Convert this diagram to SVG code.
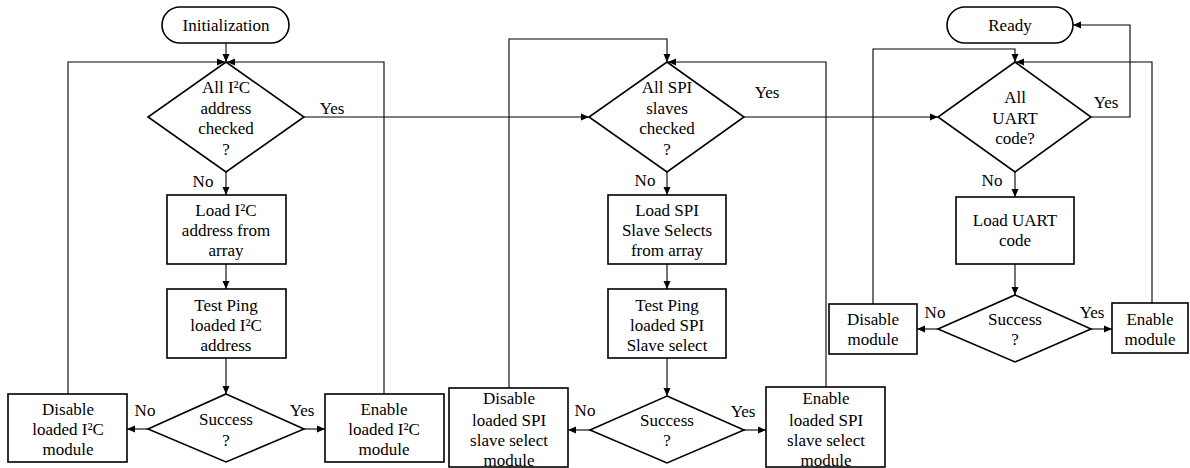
<svg xmlns="http://www.w3.org/2000/svg" width="1190" height="468" viewBox="0 0 1190 468">
<defs>
<marker id="ah" markerWidth="9" markerHeight="8" refX="8" refY="4" orient="auto" markerUnits="userSpaceOnUse">
<path d="M0,0.5 L8,4 L0,7.5 Z" fill="#000"/>
</marker>
<style>
.shape{fill:#fff;stroke:#000;stroke-width:1.6}
.conn{fill:none;stroke:#000;stroke-width:1.1;marker-end:url(#ah)}
text{font-family:"Liberation Serif","Times New Roman",Times,"DejaVu Serif",serif;font-size:17px;fill:#000;text-anchor:middle}
</style>
</defs>
<rect width="1190" height="468" fill="#fff"/>
<g id="connectors">
<path class="conn" d="M226 43 V62"/>
<path class="conn" d="M68 394 V62 H225"/>
<path class="conn" d="M384 394 V62 H227"/>
<path class="conn" d="M226 172 V195"/>
<path class="conn" d="M226 264 V289"/>
<path class="conn" d="M226 358 V394"/>
<path class="conn" d="M148 429 H127"/>
<path class="conn" d="M304 429 H325"/>
<path class="conn" d="M304 117 H589"/>
<path class="conn" d="M509 388 V39 H667 V62"/>
<path class="conn" d="M826 387 V62 H668"/>
<path class="conn" d="M667 172 V195"/>
<path class="conn" d="M667 264 V289"/>
<path class="conn" d="M667 358 V396"/>
<path class="conn" d="M590 430 H568"/>
<path class="conn" d="M744 430 H766"/>
<path class="conn" d="M744 117 H938"/>
<path class="conn" d="M1091 117 H1130 V25 H1073"/>
<path class="conn" d="M873 304 V49 H1015 V62"/>
<path class="conn" d="M1152 303 V62 H1016"/>
<path class="conn" d="M1015 172 V197"/>
<path class="conn" d="M1015 264 V295"/>
<path class="conn" d="M938 329 H917"/>
<path class="conn" d="M1091 329 H1112"/>
</g>
<g id="labels">
<text x="332" y="114">Yes</text>
<text x="203" y="187">No</text>
<text x="145" y="416">No</text>
<text x="302" y="416">Yes</text>
<text x="767" y="98">Yes</text>
<text x="645" y="186">No</text>
<text x="585" y="416">No</text>
<text x="743" y="417">Yes</text>
<text x="1106" y="108">Yes</text>
<text x="992" y="186">No</text>
<text x="935" y="318">No</text>
<text x="1092" y="318">Yes</text>
</g>
<g id="init">
<rect class="shape" x="162" y="7" width="127" height="36" rx="18"/>
<text x="226" y="31">Initialization</text>
</g>
<g id="i2c-check">
<polygon class="shape" points="226,62 304,117 226,172 148,117"/>
<text x="226" y="93">All I²C</text>
<text x="226" y="114">address</text>
<text x="226" y="134">checked</text>
<text x="226" y="155">?</text>
</g>
<g id="i2c-load">
<rect class="shape" x="167" y="195" width="119" height="69"/>
<text x="226" y="216">Load I²C</text>
<text x="226" y="236">address from</text>
<text x="226" y="256">array</text>
</g>
<g id="i2c-test">
<rect class="shape" x="167" y="289" width="119" height="69"/>
<text x="226" y="311">Test Ping</text>
<text x="226" y="331">loaded I²C</text>
<text x="226" y="351">address</text>
</g>
<g id="i2c-success">
<polygon class="shape" points="226,394 304,429 226,462 148,429"/>
<text x="226" y="425">Success</text>
<text x="226" y="446">?</text>
</g>
<g id="i2c-disable">
<rect class="shape" x="8" y="394" width="119" height="68"/>
<text x="68" y="415">Disable</text>
<text x="68" y="435">loaded I²C</text>
<text x="68" y="455">module</text>
</g>
<g id="i2c-enable">
<rect class="shape" x="325" y="394" width="119" height="68"/>
<text x="384" y="415">Enable</text>
<text x="384" y="435">loaded I²C</text>
<text x="384" y="455">module</text>
</g>
<g id="spi-check">
<polygon class="shape" points="667,62 744,117 667,172 589,117"/>
<text x="667" y="93">All SPI</text>
<text x="667" y="114">slaves</text>
<text x="667" y="134">checked</text>
<text x="667" y="155">?</text>
</g>
<g id="spi-load">
<rect class="shape" x="608" y="195" width="118" height="69"/>
<text x="667" y="216">Load SPI</text>
<text x="667" y="236">Slave Selects</text>
<text x="667" y="256">from array</text>
</g>
<g id="spi-test">
<rect class="shape" x="608" y="289" width="118" height="69"/>
<text x="667" y="311">Test Ping</text>
<text x="667" y="331">loaded SPI</text>
<text x="667" y="351">Slave select</text>
</g>
<g id="spi-success">
<polygon class="shape" points="667,396 744,430 667,463 590,430"/>
<text x="667" y="426">Success</text>
<text x="667" y="446">?</text>
</g>
<g id="spi-disable">
<rect class="shape" x="449" y="388" width="119" height="79"/>
<text x="509" y="404">Disable</text>
<text x="509" y="426">loaded SPI</text>
<text x="509" y="446">slave select</text>
<text x="509" y="466">module</text>
</g>
<g id="spi-enable">
<rect class="shape" x="766" y="387" width="119" height="80"/>
<text x="826" y="404">Enable</text>
<text x="826" y="426">loaded SPI</text>
<text x="826" y="446">slave select</text>
<text x="826" y="466">module</text>
</g>
<g id="ready">
<rect class="shape" x="947" y="7" width="126" height="36" rx="18"/>
<text x="1010" y="31">Ready</text>
</g>
<g id="uart-check">
<polygon class="shape" points="1015,62 1091,117 1015,172 938,117"/>
<text x="1015" y="103">All</text>
<text x="1015" y="124">UART</text>
<text x="1015" y="144">code?</text>
</g>
<g id="uart-load">
<rect class="shape" x="956" y="197" width="118" height="67"/>
<text x="1015" y="226">Load UART</text>
<text x="1015" y="246">code</text>
</g>
<g id="uart-success">
<polygon class="shape" points="1015,295 1091,329 1015,362 938,329"/>
<text x="1015" y="325">Success</text>
<text x="1015" y="345">?</text>
</g>
<g id="uart-disable">
<rect class="shape" x="829" y="304" width="88" height="50"/>
<text x="873" y="325">Disable</text>
<text x="873" y="345">module</text>
</g>
<g id="uart-enable">
<rect class="shape" x="1112" y="303" width="76" height="50"/>
<text x="1150" y="325">Enable</text>
<text x="1150" y="345">module</text>
</g>
</svg>
